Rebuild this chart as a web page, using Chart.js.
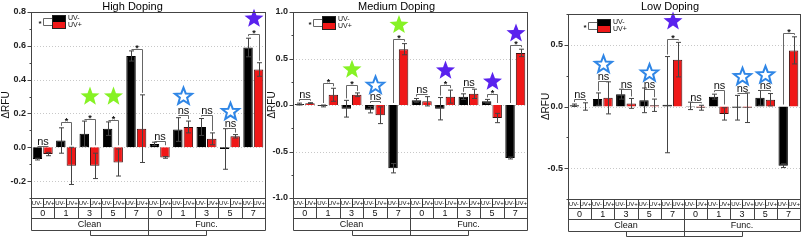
<!DOCTYPE html>
<html>
<head>
<meta charset="utf-8">
<script src="https://cdn.jsdelivr.net/npm/chart.js@4.4.1/dist/chart.umd.min.js"></script>
<style>
  html, body { margin: 0; padding: 0; background: #fff; }
  body { width: 803px; height: 241px; position: relative; overflow: hidden; }
  canvas { position: absolute; top: 0; }
</style>
</head>
<body>
<canvas id="high" width="266" height="241" style="left:0"></canvas>
<canvas id="medium" width="274" height="241" style="left:266px"></canvas>
<canvas id="low" width="263" height="241" style="left:540px"></canvas>
<script>
// categories
const doses = ["0", "1", "3", "5", "7", "0", "1", "3", "5", "7"];
const surfaces = ["Clean", "Func."];
const uvLabels = ["UV-", "UV+"];

// High Doping
const highMinus    = [-0.07, 0.04, 0.08, 0.11, 0.54, 0.02, 0.105, 0.12, -0.01, 0.59];
const highMinusErr = [0.005, 0.075, 0.075, 0.04, 0.03, 0.01, 0.07, 0.05, 0.12, 0.055];
const highPlus     = [-0.04, -0.11, -0.11, -0.09, 0.11, -0.06, 0.12, 0.05, 0.065, 0.46];
const highPlusErr  = [0.01, 0.11, 0.075, 0.08, 0.2, 0.005, 0.035, 0.035, 0.01, 0.04];
const highSig      = ["ns", "*", "*", "*", "*", "ns", "ns", "ns", "ns", "*"];
const highBracket  = [0.005, 0.15, 0.17, 0.16, 0.58, 0.035, 0.19, 0.19, 0.115, 0.67];
const highStar     = ["", "", "green", "green", "", "", "blue", "", "blue", "purple"];
const highStarAt   = [0, 0, 0.3, 0.3, 0, 0, 0.3, 0, 0.21, 0.76];
const highTicks    = [-0.2, 0, 0.2, 0.4, 0.6, 0.8];

// Medium Doping
const medMinus    = [0.01, -0.01, -0.04, -0.05, -0.68, 0.05, -0.04, 0.09, 0.04, -0.57];
const medMinusErr = [0.01, 0.01, 0.09, 0.035, 0.05, 0.02, 0.12, 0.03, 0.02, 0.01];
const medPlus     = [0.02, 0.11, 0.11, -0.11, 0.60, 0.04, 0.09, 0.12, -0.14, 0.56];
const medPlusErr  = [0.005, 0.07, 0.02, 0.09, 0.06, 0.05, 0.07, 0.05, 0.05, 0.04];
const medSig      = ["ns", "*", "*", "ns", "*", "ns", "*", "ns", "*", "*"];
const medBracket  = [0.064, 0.24, 0.21, 0.04, 0.71, 0.12, 0.22, 0.19, 0.12, 0.65];
const medStar     = ["", "", "green", "blue", "green", "", "purple", "", "purple", "purple"];
const medStarAt   = [0, 0, 0.38, 0.21, 0.86, 0, 0.37, 0, 0.25, 0.77];
const medTicks    = [-1, -0.5, 0, 0.5, 1];

// Low Doping
const lowMinus    = [0.01, 0.06, 0.10, 0.05, 0.015, 0.005, 0.08, -0.01, 0.07, -0.48];
const lowMinusErr = [0.01, 0.05, 0.04, 0.1, 0.39, 0.03, 0.02, 0.1, 0.06, 0.015];
const lowPlus     = [0.0, 0.07, 0.025, 0.01, 0.38, -0.01, -0.06, -0.01, 0.055, 0.455];
const lowPlusErr  = [0.03, 0.13, 0.04, 0.05, 0.14, 0.02, 0.05, 0.12, 0.05, 0.11];
const lowSig      = ["ns", "ns", "ns", "ns", "*", "ns", "ns", "ns", "ns", "*"];
const lowBracket  = [0.06, 0.21, 0.14, 0.14, 0.55, 0.04, 0.13, 0.107, 0.13, 0.6];
const lowStar     = ["", "blue", "", "blue", "purple", "", "", "blue", "blue", ""];
const lowStarAt   = [0, 0.34, 0, 0.27, 0.69, 0, 0, 0.24, 0.255, 0];
const lowTicks    = [-0.5, 0, 0.5];

const FONT = '"Liberation Sans", Arial, sans-serif';
const starColors = { green: "#86f224", purple: "#5a22ee", blue: "#2f86e6" };

function starPath(ctx, cx, cy, R, r) {
  ctx.beginPath();
  for (let k = 0; k < 10; k++) {
    const rad = k % 2 ? r : R;
    const a = -Math.PI / 2 + k * Math.PI / 5;
    const px = cx + rad * Math.cos(a), py = cy + rad * Math.sin(a);
    if (k) ctx.lineTo(px, py); else ctx.moveTo(px, py);
  }
  ctx.closePath();
}

function panelPlugin(cfg) {
  return {
    id: "panel",
    beforeDatasetsDraw(chart) {
      const { ctx, chartArea: a } = chart;
      const y = chart.scales.y;
      ctx.save();
      ctx.strokeStyle = "#c8c8c8";
      ctx.lineWidth = 1;
      ctx.setLineDash([1, 2]);
      cfg.ticks.forEach(t => {
        const py = Math.round(y.getPixelForValue(t)) + 0.5;
        if (py <= a.top + 1 || py >= a.bottom - 1) return;
        ctx.beginPath();
        ctx.moveTo(a.left, py);
        ctx.lineTo(a.right, py);
        ctx.stroke();
      });
      ctx.restore();
    },
    afterDatasetsDraw(chart) {
      const { ctx, chartArea: a } = chart;
      const y = chart.scales.y;
      const m0 = chart.getDatasetMeta(0), m1 = chart.getDatasetMeta(1);
      ctx.save();

      // error bars
      ctx.strokeStyle = "#444";
      ctx.lineWidth = 1;
      chart.data.datasets.forEach((ds, di) => {
        chart.getDatasetMeta(di).data.forEach((bar, i) => {
          const v = ds.data[i], e = ds.errors[i];
          const x = Math.round(bar.x) + 0.5;
          const t = y.getPixelForValue(v + e), b = y.getPixelForValue(v - e);
          ctx.beginPath();
          ctx.moveTo(x, t); ctx.lineTo(x, b);
          ctx.moveTo(x - 2.5, t); ctx.lineTo(x + 2.5, t);
          ctx.moveTo(x - 2.5, b); ctx.lineTo(x + 2.5, b);
          ctx.stroke();
        });
      });

      // significance brackets, labels and stars
      const minus = chart.data.datasets[0], plus = chart.data.datasets[1];
      cfg.sig.forEach((s, i) => {
        const xl = Math.round(m0.data[i].x) + 0.5, xr = Math.round(m1.data[i].x) + 0.5;
        const yb = Math.round(y.getPixelForValue(cfg.bracket[i])) + 0.5;
        const topL = Math.max(minus.data[i] + minus.errors[i], 0);
        const topR = Math.max(plus.data[i] + plus.errors[i], 0);
        const yl = Math.max(y.getPixelForValue(topL) - 2, yb);
        const yr = Math.max(y.getPixelForValue(topR) - 2, yb);
        ctx.strokeStyle = "#666";
        ctx.beginPath();
        ctx.moveTo(xl, yl); ctx.lineTo(xl, yb); ctx.lineTo(xr, yb); ctx.lineTo(xr, yr);
        ctx.stroke();
        const xc = (xl + xr) / 2;
        ctx.fillStyle = "#111";
        ctx.textAlign = "center";
        ctx.textBaseline = "alphabetic";
        if (s === "ns") {
          ctx.font = "11px " + FONT;
          ctx.fillText(s, xc, yb - 1.5);
        } else {
          ctx.font = "bold 9px " + FONT;
          ctx.fillText(s, xc, yb + 1);
        }
        const st = cfg.star[i];
        if (st) {
          const sy = y.getPixelForValue(cfg.starAt[i]);
          if (st === "blue") {
            starPath(ctx, xc, sy, 9, 3.8);
            ctx.fillStyle = "#fff";
            ctx.fill();
            ctx.lineWidth = 2;
            ctx.strokeStyle = starColors.blue;
            ctx.stroke();
            ctx.lineWidth = 1;
          } else {
            starPath(ctx, xc, sy, 10, 4.2);
            ctx.fillStyle = starColors[st];
            ctx.fill();
          }
        }
      });

      // frame and y ticks
      ctx.strokeStyle = "#444";
      ctx.lineWidth = 1;
      ctx.strokeRect(Math.round(a.left) + 0.5, Math.round(a.top) + 0.5,
        Math.round(a.right - a.left), Math.round(a.bottom - a.top));
      const lx = Math.round(a.left) + 0.5;
      for (let v = y.min; v <= y.max + 1e-9; v += cfg.minor) {
        const major = cfg.ticks.some(t => Math.abs(t - v) < 1e-6);
        const py = Math.round(y.getPixelForValue(v)) + 0.5;
        ctx.beginPath();
        ctx.moveTo(lx, py); ctx.lineTo(lx - (major ? 4 : 2), py);
        ctx.stroke();
      }

      // legend
      const gx = Math.round(a.left + cfg.legendX), gy = Math.round(a.top + cfg.legendY);
      ctx.fillStyle = minus.backgroundColor;
      ctx.fillRect(gx, gy, 14, 7);
      ctx.fillStyle = plus.backgroundColor;
      ctx.fillRect(gx, gy + 7, 14, 7);
      ctx.strokeStyle = "#222";
      ctx.strokeRect(gx + 0.5, gy + 0.5, 13, 13);
      ctx.strokeStyle = "#666";
      ctx.beginPath();
      ctx.moveTo(gx, gy + 3.5); ctx.lineTo(gx - 8.5, gy + 3.5);
      ctx.lineTo(gx - 8.5, gy + 10.5); ctx.lineTo(gx, gy + 10.5);
      ctx.stroke();
      ctx.fillStyle = "#111";
      ctx.font = "7px " + FONT;
      ctx.textAlign = "left";
      ctx.textBaseline = "middle";
      ctx.fillText(minus.label, gx + 16, gy + 3.5);
      ctx.fillText(plus.label, gx + 16, gy + 10.5);
      ctx.font = "bold 8px " + FONT;
      ctx.textAlign = "center";
      ctx.fillText("*", gx - 12, gy + 9);

      // table under the x axis
      const n = doses.length;
      const w = (a.right - a.left) / n;
      const t0 = Math.round(a.bottom) + 0.5;
      const r1 = t0 + 9, r2 = r1 + 11, r3 = r2 + 12, br = r3 + 5;
      const L = Math.round(a.left) + 0.5, R = Math.round(a.right) + 0.5;
      ctx.strokeStyle = "#444";
      ctx.beginPath();
      [t0, r1, r2, r3].forEach(yy => { ctx.moveTo(L, yy); ctx.lineTo(R, yy); });
      ctx.moveTo(L, t0); ctx.lineTo(L, r3);
      ctx.moveTo(R, t0); ctx.lineTo(R, r3);
      for (let k = 1; k < n * 2; k++) {
        const xx = Math.round(a.left + k * w / 2) + 0.5;
        if (k % 2) { ctx.moveTo(xx, t0); ctx.lineTo(xx, r1); }
        else if (k === n) { ctx.moveTo(xx, t0); ctx.lineTo(xx, br); }
        else { ctx.moveTo(xx, t0); ctx.lineTo(xx, r2); }
      }
      const cL = Math.round(a.left + w * n / 4) + 0.5, cR = Math.round(a.left + w * 3 * n / 4) + 0.5;
      ctx.moveTo(cL, r3); ctx.lineTo(cL, br); ctx.lineTo(cR, br); ctx.lineTo(cR, r3);
      ctx.stroke();

      ctx.fillStyle = "#111";
      ctx.textAlign = "center";
      ctx.textBaseline = "middle";
      ctx.font = "6px " + FONT;
      for (let k = 0; k < n * 2; k++) {
        ctx.fillText(uvLabels[k % 2], a.left + (k + 0.5) * w / 2, (t0 + r1) / 2 + 0.5);
      }
      ctx.font = "9px " + FONT;
      doses.forEach((d, k) => ctx.fillText(d, a.left + (k + 0.5) * w, (r1 + r2) / 2 + 0.5));
      surfaces.forEach((s, k) => ctx.fillText(s, a.left + (k + 0.5) * w * n / 2, (r2 + r3) / 2 + 0.5));
      ctx.restore();
    }
  };
}

function makePanel(id, cfg) {
  const el = document.getElementById(id);
  return new Chart(el, {
    type: "bar",
    data: {
      labels: doses.map((d, i) => surfaces[i < 5 ? 0 : 1] + " " + d),
      datasets: [
        { label: uvLabels[0], data: cfg.minus, errors: cfg.minusErr,
          backgroundColor: "#000000", borderColor: "#000000", borderWidth: 1,
          categoryPercentage: 0.9, barPercentage: 0.9 },
        { label: uvLabels[1], data: cfg.plus, errors: cfg.plusErr,
          backgroundColor: "#f01818", borderColor: "#401010", borderWidth: 1,
          categoryPercentage: 0.9, barPercentage: 0.9 }
      ]
    },
    options: {
      responsive: false,
      animation: false,
      layout: { padding: { left: 0, right: cfg.padRight, top: 0, bottom: cfg.padBottom } },
      plugins: {
        legend: { display: false },
        tooltip: { enabled: false },
        title: {
          display: true, text: cfg.title, color: "#000",
          font: { family: FONT, size: 11, weight: "normal", lineHeight: 1 },
          padding: { top: 1, bottom: cfg.titleGap }
        }
      },
      scales: {
        x: { display: false },
        y: {
          min: cfg.min, max: cfg.max,
          afterBuildTicks: axis => { axis.ticks = cfg.ticks.map(v => ({ value: v })); },
          afterFit: scale => { scale.width = cfg.axisW; },
          grid: { display: false, drawTicks: false },
          border: { display: false },
          ticks: {
            color: "#222", padding: 5,
            font: { family: FONT, size: 9, weight: "bold" },
            callback: v => Number(v).toFixed(1)
          },
          title: {
            display: true, text: "ΔRFU", color: "#111",
            font: { family: FONT, size: 10 }, padding: { top: 0, bottom: 0 }
          }
        }
      }
    },
    plugins: [panelPlugin(cfg)]
  });
}

makePanel("high", {
  title: "High Doping", minus: highMinus, minusErr: highMinusErr, plus: highPlus, plusErr: highPlusErr,
  sig: highSig, bracket: highBracket, star: highStar, starAt: highStarAt,
  min: -0.3, max: 0.8, ticks: highTicks, minor: 0.1,
  axisW: 31, padRight: 1, padBottom: 43, titleGap: 0, legendX: 21, legendY: 3
});
makePanel("medium", {
  title: "Medium Doping", minus: medMinus, minusErr: medMinusErr, plus: medPlus, plusErr: medPlusErr,
  sig: medSig, bracket: medBracket, star: medStar, starAt: medStarAt,
  min: -1, max: 1, ticks: medTicks, minor: 0.25,
  axisW: 27, padRight: 13, padBottom: 43, titleGap: 0, legendX: 29, legendY: 4
});
makePanel("low", {
  title: "Low Doping", minus: lowMinus, minusErr: lowMinusErr, plus: lowPlus, plusErr: lowPlusErr,
  sig: lowSig, bracket: lowBracket, star: lowStar, starAt: lowStarAt,
  min: -0.75, max: 0.75, ticks: lowTicks, minor: 0.25,
  axisW: 28, padRight: 3, padBottom: 42, titleGap: 2, legendX: 29, legendY: 5
});
</script>
</body>
</html>
